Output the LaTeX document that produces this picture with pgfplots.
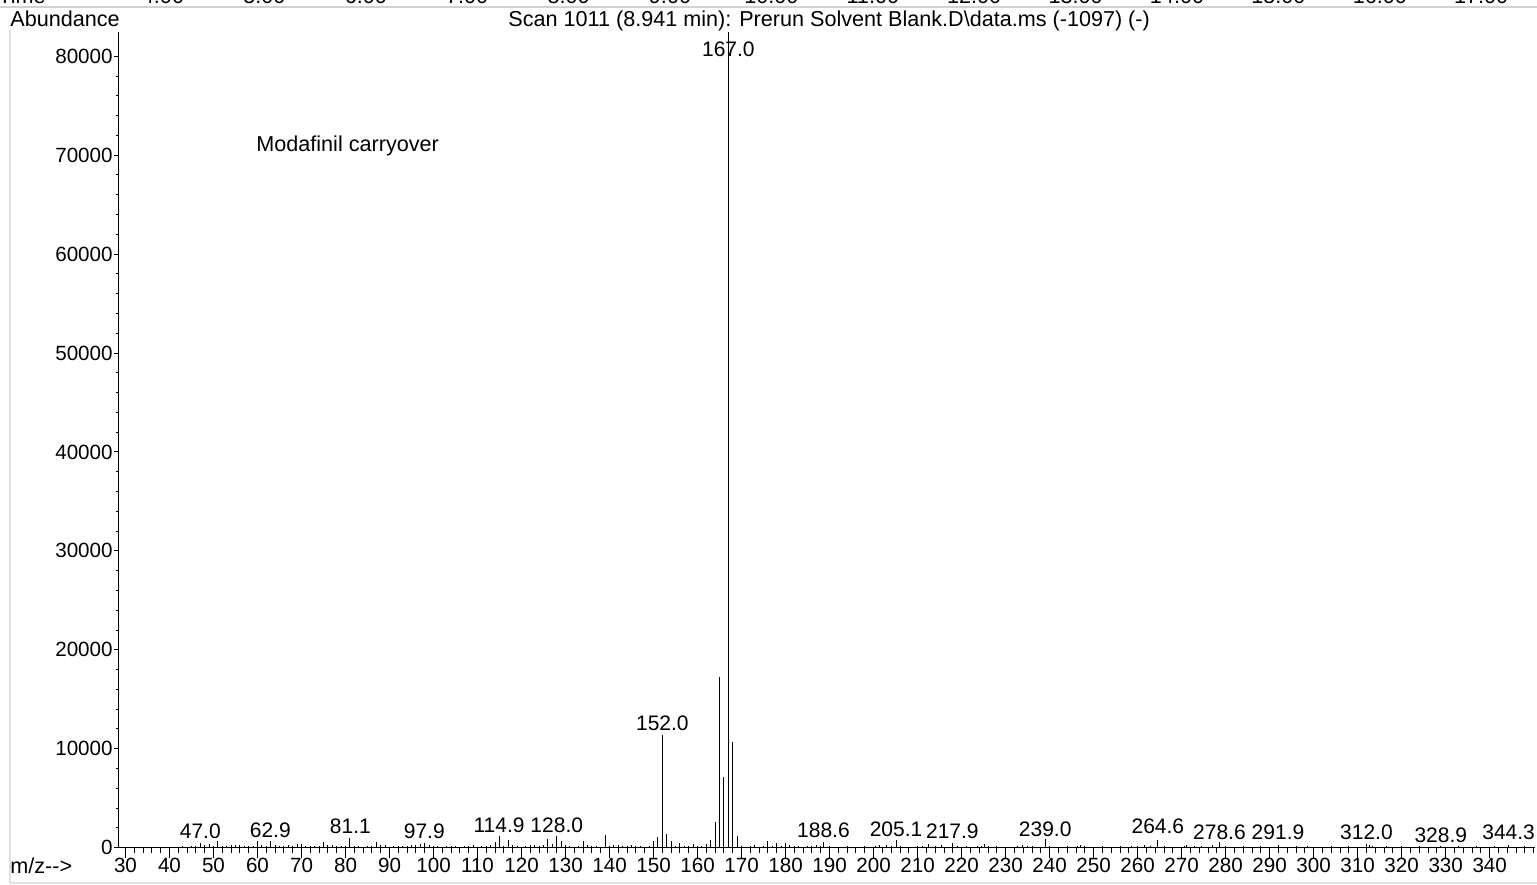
\documentclass[border=0pt]{standalone}
\usepackage{fontspec}
\setmainfont{Liberation Sans}
\usepackage{pgfplots}
\pgfplotsset{compat=1.18}
\usepackage{pgfplotstable}
\pgfplotstableread{
mz h
43 150
44 100
45 200
46 150
47 440
48 250
49 400
50 200
51 680
52 200
53 150
54 300
55 300
56 250
57 200
58 150
59 200
60 650
61 300
62 200
63 680
64 300
65 200
66 150
67 250
68 150
69 400
70 400
71 200
72 150
73 200
74 150
75 600
76 300
77 300
78 150
79 200
80 150
81 950
82 200
83 150
84 100
85 150
86 200
87 600
88 300
89 300
90 100
91 150
92 200
93 150
94 200
95 300
96 250
97 400
98 500
99 300
100 150
101 200
102 100
103 150
104 200
105 150
106 100
107 200
108 150
109 300
110 100
111 200
112 150
113 300
114 600
115 1215
116 200
117 800
118 300
119 150
120 100
121 200
122 300
123 300
124 150
125 300
126 900
127 400
128 1215
129 700
130 300
131 150
132 100
133 200
134 700
135 300
136 150
137 150
138 100
139 1280
140 200
141 300
142 300
143 200
144 150
145 300
146 200
147 150
148 100
149 200
150 710
151 1050
152 11390
153 1380
154 700
155 200
156 500
157 150
158 200
159 340
160 200
161 150
162 340
163 780
164 2630
165 17280
166 7175
167 82400
168 10650
169 1210
170 150
171 100
172 150
173 240
174 100
175 200
176 640
177 150
178 500
179 200
180 500
181 240
182 150
183 200
184 100
185 150
186 200
187 300
188 200
188.6 600
190 150
192 100
194 150
196 100
198 150
200.4 200
201.4 300
203 300
204 200
205.1 810
206 220
208 100
210 150
211 200
212.5 400
214 200
215.5 300
217.9 500
219 200
221 150
223.5 200
224.6 220
225.3 400
226 220
228 200
230 100
232.7 200
233.8 300
234.9 220
236 200
237 100
239.0 910
240 200
242 100
244 150
246.3 220
247 300
248 220
250 100
252 150
254 100
256 150
258.5 200
260 220
261.5 300
263 200
264.6 810
266 150
268 100
270.6 220
271.2 300
273 150
274.5 200
277 300
278.6 600
280 150
282 100
284 150
286 100
288 150
290 100
291.9 300
294 100
296 150
298.6 150
300 100
302 100
304 150
306 100
308 150
310 100
312.0 400
312.7 300
313.4 220
315 100
316.5 150
318 100
320 150
322 100
324 150
326 100
328.9 200
331 100
333 150
335 100
337 150
339 100
341 150
344.3 250
346 100
348 150
}\spectrum
\begin{document}
\fontsize{10.8pt}{13pt}\selectfont
\begin{tikzpicture}[x=0.5pt,y=0.5pt]
\useasboundingbox (0,0) rectangle (1537,884);
% cut-off time strip
\begin{scope}
\clip (0,877.5) rectangle (1537,884);
\node[anchor=base west, inner sep=0pt] at (-2,880.5) {Time};
\foreach \t in {4,...,17} {
  \pgfmathsetmacro{\px}{163+(\t-4)*101.4}
  \node[anchor=base, inner sep=0pt] at (\px,880.5) {\t.00};
}
\end{scope}
% frame lines
\draw[black!18, line width=1pt] (0,876.7) -- (1537,876.7);
\draw[black!12, line width=1.2pt] (10,854) -- (10,1);
\draw[black!12, line width=1.2pt] (10,1) -- (1537,1);
% texts
\node[anchor=base west, inner sep=0pt] at (10,857) {Abundance};
\node[anchor=base west, inner sep=0pt] at (508,857) {Scan 1011 (8.941 min): Prerun Solvent Blank.D\textbackslash data.ms (-1097) (-)};
\node[anchor=base west, inner sep=0pt] at (256,732) {Modafinil carryover};
\node[anchor=base west, inner sep=0pt] at (10,11) {m/z-{}-{}>};
% main axis (y axis and spectrum)
\begin{axis}[
  at={(59pt,18.15pt)}, anchor=south west,
  scale only axis, width=708.5pt, height=407.85pt,
  xmin=28.3, xmax=350.3, ymin=0, ymax=82450,
  axis x line=bottom, axis y line=left,
  axis line style={-, line width=0.5pt, black},
  xtick=\empty,
  ytick={0,10000,...,80000}, minor y tick num=4,
  tick align=outside,
  major tick length=2pt, minor tick length=1pt,
  every tick/.style={black, line width=0.5pt},
  scaled y ticks=false,
  /pgf/number format/assume math mode=true,
  /pgf/number format/1000 sep={},
  tick label style={font=\fontsize{10.3pt}{12pt}\selectfont},
  yticklabel style={inner sep=0pt, anchor=east},
  yticklabel shift=0.5pt,
  clip=false,
]
\addplot[ycomb, black, line width=0.5pt, mark=none] table[x=mz, y=h] {\spectrum};
\foreach \m/\v/\l in {47/880/47.0, 62.9/1080/62.9, 81.1/1385/81.1, 97.9/880/97.9,
  114.9/1585/114.9, 128/1585/128.0, 152/11894/152.0, 167/79950/167.0,
  188.6/1080/188.6, 205.1/1180/205.1, 217.9/880/217.9, 239/1180/239.0,
  264.6/1385/264.6, 278.6/780/278.6, 291.9/780/291.9, 312/780/312.0,
  328.9/575/328.9, 344.3/780/344.3} {
  \edef\temp{\noexpand\node[anchor=base, inner sep=0pt, font=\noexpand\fontsize{10.5pt}{12pt}\noexpand\selectfont] at (axis cs:\m,\v) {\l};}
  \temp
}
\end{axis}
% x axis ticks
\begin{axis}[
  at={(59pt,18.15pt)}, anchor=south west,
  scale only axis, width=708.5pt, height=407.85pt,
  xmin=28.3, xmax=350.3, ymin=0, ymax=82450,
  axis x line=bottom, axis y line=none,
  axis line style={-, line width=0.5pt, black},
  xtick={30,40,...,340},
  minor xtick={28,30,...,350},
  tick align=outside,
  major tick length=5pt, minor tick length=2.5pt,
  every tick/.style={black, line width=0.5pt},
  /pgf/number format/assume math mode=true,
  tick label style={font=\fontsize{10.3pt}{12pt}\selectfont},
  xticklabel style={inner sep=0pt, anchor=base},
  xticklabel shift=7.6pt,
]
\end{axis}
\end{tikzpicture}
\end{document}
